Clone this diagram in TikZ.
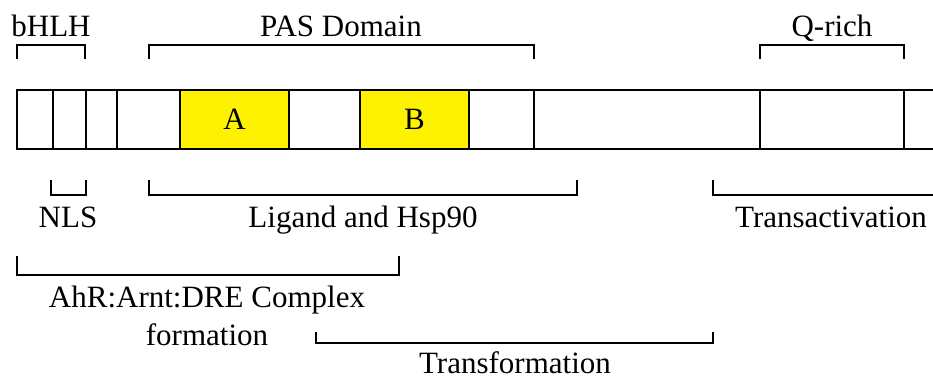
\documentclass[tikz,border=0pt]{standalone}
\usepackage{fontspec}
\setmainfont{Liberation Serif}
\begin{document}
\begin{tikzpicture}[x=1pt,y=-1pt,line width=1.8pt,
  lbl/.style={font=\fontsize{31}{38}\selectfont, inner sep=0pt, anchor=base},
  cell/.style={draw, minimum height=59pt, anchor=north west, outer sep=0pt, inner sep=0pt, font=\fontsize{31}{38}\selectfont},
  brk/.style={line width=1.8pt, line cap=rect}]
\useasboundingbox (0,0) rectangle (933,379);
\clip (0,0) rectangle (933,379);
% protein bar cells
\node[cell, minimum width=36pt]  (c1)  at (17,90)  {};
\node[cell, minimum width=33pt]  (c2)  at (53,90)  {};
\node[cell, minimum width=31pt]  (c3)  at (86,90)  {};
\node[cell, minimum width=63pt]  (c4)  at (117,90) {};
\node[cell, minimum width=109pt, fill=yellow] (cA) at (180,90) {A};
\node[cell, minimum width=71pt]  (c6)  at (289,90) {};
\node[cell, minimum width=109pt, fill=yellow] (cB) at (360,90) {B};
\node[cell, minimum width=65pt]  (c8)  at (469,90) {};
\node[cell, minimum width=226pt] (c9)  at (534,90) {};
\node[cell, minimum width=144pt] (c10) at (760,90) {};
\node[cell, minimum width=60pt]  (c11) at (904,90) {};
% top brackets
\draw[brk] (17,58) -- (17,45) -- (85,45) -- (85,58);
\node[lbl] (bhlh) at (51,37) {bHLH};
\draw[brk] (149,58) -- (149,45) -- (534,45) -- (534,58);
\node[lbl] (pas) at (341,37) {PAS Domain};
\draw[brk] (760,58) -- (760,45) -- (904,45) -- (904,58);
\node[lbl] (qrich) at (832,37) {Q-rich};
% bottom brackets
\draw[brk] (51,181) -- (51,195) -- (86,195) -- (86,181);
\node[lbl] (nls) at (68,227) {NLS};
\draw[brk] (149,181) -- (149,195) -- (577,195) -- (577,181);
\node[lbl] (lig) at (363,227) {Ligand and Hsp90};
\draw[brk] (713,181) -- (713,195) -- (940,195);
\node[lbl] (trans) at (831,227) {Transactivation};
\draw[brk] (17,257) -- (17,275) -- (399,275) -- (399,257);
\node[lbl, align=center] (ahr) at (207,345) {AhR:Arnt:DRE Complex\\formation};
\draw[brk] (316,333) -- (316,343) -- (713,343) -- (713,333);
\node[lbl] (tf) at (515,373) {Transformation};
\end{tikzpicture}
\end{document}
